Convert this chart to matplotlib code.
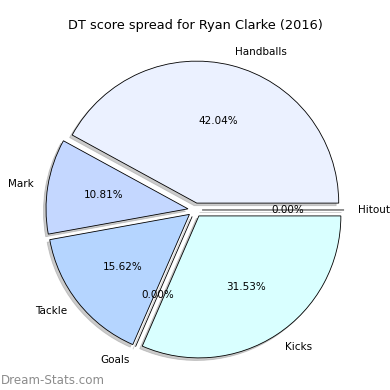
import matplotlib
matplotlib.use('Agg')
import matplotlib.pyplot as plt

# DT score breakdown
labels = ['Handballs', 'Mark', 'Tackle', 'Goals', 'Kicks', 'Hitout']
values = [42.04, 10.81, 15.62, 0.0, 31.53, 0.0]
colors = ['#ebf1ff', '#c4d7ff', '#b5d5ff', '#c8e0ff', '#d9ffff', '#e0f0ff']

fig = plt.figure(figsize=(3.9, 3.9), dpi=100)
ax = fig.add_axes([0, 0, 1, 1])

wedges, texts, autotexts = ax.pie(
    values, labels=labels, colors=colors, explode=[0.05] * len(values),
    autopct='%1.2f%%', startangle=0,
    shadow={'ox': -0.013, 'oy': -0.013, 'facecolor': '#999999',
            'edgecolor': '#999999'},
    wedgeprops={'edgecolor': 'black', 'linewidth': 0.6},
    textprops={'fontsize': 7.5})

ax.set_aspect('equal')
ax.set_xlim(-1.373, 1.373)
ax.set_ylim(-1.268, 1.479)
ax.axis('off')

fig.text(0.5, 0.935, 'DT score spread for Ryan Clarke (2016)', ha='center',
         va='center', fontsize=9.3)
fig.text(0.001, 0.025, 'Dream-Stats.com', ha='left', va='center',
         fontsize=8.6, color='#8c8c8c')

fig.savefig('out.png', dpi=100)
